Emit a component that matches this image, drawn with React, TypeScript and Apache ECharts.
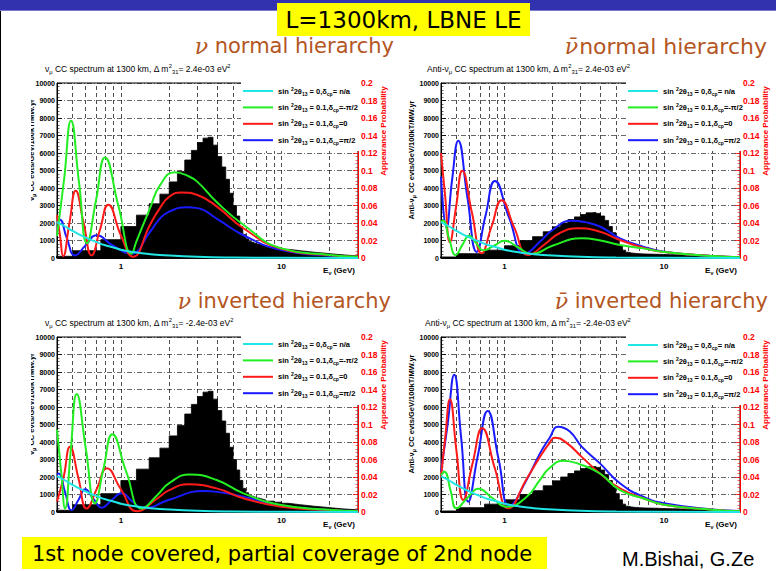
import React, { useEffect, useRef } from 'react';
import * as echarts from 'echarts';

// ---------- data ----------
const binEdges = [0.25, 0.5, 0.75, 1, 1.25, 1.5, 1.75, 2, 2.25, 2.5, 2.75, 3, 3.25, 3.5, 3.75, 4, 4.25, 4.5, 4.75, 5, 5.25, 5.5, 5.75, 6, 6.25, 6.5, 6.75, 7, 7.25, 7.5, 7.75, 8, 9, 10, 11, 12, 13, 14, 15, 16, 18, 20, 22, 24, 26, 28, 30];

const nuCounts = [100, 420, 1050, 1800, 2450, 3100, 3650, 4350, 4950, 5600, 6150, 6600, 6850, 6900, 6450, 5800, 5200, 4500, 3700, 3000, 2400, 1800, 1350, 1100, 950, 900, 850, 800, 760, 720, 680, 620, 560, 500, 460, 420, 390, 360, 330, 290, 250, 210, 180, 160, 140, 120];

const antiNuCounts = [60, 250, 450, 700, 1000, 1220, 1500, 1780, 2000, 2200, 2350, 2480, 2580, 2600, 2550, 2400, 2150, 1800, 1450, 1050, 700, 450, 330, 290, 270, 260, 250, 240, 235, 230, 225, 215, 200, 190, 180, 170, 160, 150, 140, 130, 115, 100, 90, 80, 70, 60];

const noTheta13 = [[0.4, 0.041], [0.45, 0.036], [0.5, 0.031], [0.6, 0.0235], [0.7, 0.0185], [0.8, 0.0145], [0.9, 0.012], [1.0, 0.0095], [1.25, 0.0062], [1.5, 0.0045], [2, 0.0028], [3, 0.0014], [5, 0.0006], [10, 0.0002], [30, 0.00003]];

// neutrino, normal hierarchy
const nuNHminus = [[0.4, 0.025], [0.443, 0.09], [0.489, 0.157], [0.548, 0.087], [0.615, 0.017], [0.7, 0.066], [0.796, 0.115], [0.964, 0.06], [1.167, 0.005], [1.25, 0.019], [1.52, 0.057], [1.75, 0.083], [2.17, 0.098], [2.6, 0.094], [3.0, 0.087], [3.95, 0.064], [5.8, 0.038], [10, 0.011], [20, 0.0034], [30, 0.0015]];
const nuNHzero = [[0.4, 0.049], [0.418, 0.025], [0.437, 0.002], [0.478, 0.04], [0.523, 0.077], [0.586, 0.04], [0.657, 0.003], [0.74, 0.032], [0.835, 0.061], [1.0, 0.026], [1.19, 0.0015], [1.52, 0.038], [1.75, 0.057], [2.0, 0.07], [2.39, 0.075], [3.0, 0.072], [3.95, 0.059], [5.8, 0.034], [10, 0.0105], [20, 0.003], [30, 0.0013]];
const nuNHplus = [[0.4, 0.043], [0.415, 0.044], [0.46, 0.023], [0.518, 0.003], [0.6, 0.014], [0.706, 0.026], [0.88, 0.015], [1.15, 0.005], [1.52, 0.03], [1.75, 0.045], [2.0, 0.053], [2.57, 0.058], [3.0, 0.057], [3.95, 0.045], [5.8, 0.026], [10, 0.009], [20, 0.0025], [30, 0.001]];

// anti-neutrino, normal hierarchy
const antiNHminus = [[0.4, 0.0415], [0.412, 0.043], [0.45, 0.022], [0.494, 0.0034], [0.545, 0.015], [0.6, 0.0255], [0.665, 0.017], [0.736, 0.009], [0.86, 0.014], [1.0, 0.0198], [1.22, 0.012], [1.48, 0.0046], [2.0, 0.014], [3.05, 0.0225], [4.0, 0.02], [5.3, 0.0149], [7.4, 0.011], [10, 0.0068], [20, 0.0023], [30, 0.001]];
const antiNHzero = [[0.4, 0.12], [0.425, 0.07], [0.455, 0.018], [0.497, 0.058], [0.544, 0.0998], [0.625, 0.052], [0.72, 0.0053], [0.83, 0.036], [0.96, 0.066], [1.15, 0.035], [1.41, 0.0034], [1.8, 0.016], [2.2, 0.028], [2.9, 0.034], [3.97, 0.03], [5.3, 0.0206], [7.4, 0.0118], [10, 0.0068], [20, 0.0023], [30, 0.001]];
const antiNHplus = [[0.4, 0.093], [0.433, 0.035], [0.47, 0.09], [0.513, 0.134], [0.585, 0.07], [0.67, 0.007], [0.76, 0.048], [0.872, 0.088], [1.07, 0.046], [1.345, 0.005], [1.7, 0.02], [2.0, 0.032], [2.64, 0.0427], [3.2, 0.041], [3.97, 0.036], [5.3, 0.0225], [7.4, 0.013], [10, 0.0072], [20, 0.0023], [30, 0.001]];

// neutrino, inverted hierarchy
const nuIHminus = [[0.4, 0.094], [0.425, 0.045], [0.449, 0.004], [0.487, 0.07], [0.531, 0.135], [0.605, 0.072], [0.69, 0.01], [0.78, 0.05], [0.885, 0.0888], [1.08, 0.046], [1.35, 0.004], [1.7, 0.02], [2.0, 0.033], [2.7, 0.043], [3.95, 0.0366], [5.8, 0.0213], [10, 0.008], [20, 0.0025], [30, 0.001]];
const nuIHzero = [[0.4, 0.012], [0.44, 0.04], [0.482, 0.0747], [0.545, 0.038], [0.612, 0.004], [0.71, 0.027], [0.817, 0.05], [1.0, 0.026], [1.26, 0.001], [1.7, 0.016], [2.0, 0.025], [2.63, 0.0316], [3.95, 0.027], [5.8, 0.0157], [10, 0.006], [20, 0.002], [30, 0.0008]];
const nuIHplus = [[0.4, 0.043], [0.41, 0.044], [0.45, 0.022], [0.493, 0.002], [0.545, 0.014], [0.6, 0.026], [0.675, 0.015], [0.76, 0.005], [0.87, 0.013], [1.01, 0.0214], [1.18, 0.012], [1.38, 0.004], [2.0, 0.014], [3.27, 0.024], [3.95, 0.023], [5.8, 0.0175], [10, 0.0069], [20, 0.0023], [30, 0.001]];

// anti-neutrino, inverted hierarchy
const antiIHminus = [[0.4, 0.042], [0.42, 0.046], [0.46, 0.024], [0.5, 0.0042], [0.585, 0.016], [0.685, 0.0265], [0.84, 0.016], [1.03, 0.006], [1.38, 0.0175], [1.67, 0.0366], [1.91, 0.05], [2.34, 0.0587], [3.05, 0.0537], [3.97, 0.044], [5.3, 0.025], [7.4, 0.0157], [10, 0.0084], [20, 0.0027], [30, 0.001]];
const antiIHzero = [[0.4, 0.04], [0.425, 0.085], [0.455, 0.129], [0.5, 0.07], [0.552, 0.0137], [0.63, 0.055], [0.726, 0.0957], [0.87, 0.05], [1.06, 0.0042], [1.38, 0.038], [1.67, 0.063], [1.91, 0.0785], [2.07, 0.085], [2.45, 0.079], [3.05, 0.063], [3.97, 0.044], [5.3, 0.027], [7.4, 0.0157], [10, 0.0084], [20, 0.0027], [30, 0.001]];
const antiIHplus = [[0.4, 0.046], [0.44, 0.1], [0.484, 0.157], [0.535, 0.085], [0.593, 0.0118], [0.68, 0.064], [0.785, 0.1154], [0.92, 0.06], [1.08, 0.0072], [1.38, 0.037], [1.67, 0.067], [1.91, 0.084], [2.17, 0.0975], [2.57, 0.092], [3.05, 0.0747], [3.97, 0.0556], [5.3, 0.0328], [7.4, 0.0175], [10, 0.0099], [20, 0.003], [30, 0.0012]];

const gridLinesE = [0.5, 0.6, 0.7, 0.8, 0.9, 1, 2, 3, 4, 5, 6, 7, 8, 9, 10, 20];

const curveNames = ['sin²2θ13 = 0, δcp = n/a', 'sin²2θ13 = 0.1, δcp = -π/2', 'sin²2θ13 = 0.1, δcp = 0', 'sin²2θ13 = 0.1, δcp = π/2'];
const legendLabels = [
  '{a|sin }{sup|2}{a|2θ}{sub|13}{a| = 0,δ}{sub|cp}{a|= n/a}',
  '{a|sin }{sup|2}{a|2θ}{sub|13}{a| = 0.1,δ}{sub|cp}{a|=-π/2}',
  '{a|sin }{sup|2}{a|2θ}{sub|13}{a| = 0.1,δ}{sub|cp}{a|=0}',
  '{a|sin }{sup|2}{a|2θ}{sub|13}{a| = 0.1,δ}{sub|cp}{a|=π/2}',
];
const curveColors = ['#22e6e6', '#22ee22', '#ff1a1a', '#1a1aff'];

// ---------- layout ----------
const SANS = '"Liberation Sans", Arial, sans-serif';
const TITLE_COLOR = '#b4561f';
const PH = 175;

const panels = [
  { left: 57, top: 83, width: 301, hist: nuCounts, curves: [noTheta13, nuNHminus, nuNHzero, nuNHplus], legLeft: 243, legTop: 86, anti: false, dm: '2.4e-03', title: ['ν', ' normal hierarchy'], nuPad: 0, tSize: 21, titleX: 394, titleY: 46, subX: 45, subY: 69 },
  { left: 441, top: 83, width: 299, hist: antiNuCounts, curves: [noTheta13, antiNHminus, antiNHzero, antiNHplus], legLeft: 628, legTop: 86, anti: true, dm: '2.4e-03', title: ['ν̄', 'normal hierarchy'], nuPad: 1, tSize: 22, titleX: 767, titleY: 46, subX: 427, subY: 69 },
  { left: 57, top: 337, width: 301, hist: nuCounts, curves: [noTheta13, nuIHminus, nuIHzero, nuIHplus], legLeft: 243, legTop: 339, anti: false, dm: '-2.4e-03', title: ['ν', ' inverted hierarchy'], nuPad: 0, tSize: 21, titleX: 391, titleY: 301, subX: 45, subY: 323 },
  { left: 441, top: 337, width: 299, hist: antiNuCounts, curves: [noTheta13, antiIHminus, antiIHzero, antiIHplus], legLeft: 628, legTop: 340, anti: true, dm: '-2.4e-03', title: ['ν̄', ' inverted hierarchy'], nuPad: 0, tSize: 21, titleX: 768, titleY: 301, subX: 425, subY: 323 },
];

const histData = (counts: number[]) =>
  counts.map((c, i) => [binEdges[i], c]).concat([[binEdges[binEdges.length - 1], counts[counts.length - 1]]]);

const smallRich = (size: number, bold: boolean, color: string) => ({
  a: { fontSize: size, fontWeight: bold ? 'bold' : 'normal', fontFamily: SANS, fill: color, lineHeight: size + 3 },
  sub: { fontSize: size * 0.68, fontWeight: bold ? 'bold' : 'normal', fontFamily: SANS, fill: color, lineHeight: size * 0.68, verticalAlign: 'bottom' },
  sup: { fontSize: size * 0.68, fontWeight: bold ? 'bold' : 'normal', fontFamily: SANS, fill: color, lineHeight: size * 0.68, verticalAlign: 'top' },
});

function buildOption() {
  const grid: any[] = [];
  const xAxis: any[] = [];
  const yAxis: any[] = [];
  const series: any[] = [];
  const legend: any[] = [];
  const elements: any[] = [];

  panels.forEach((p, i) => {
    grid.push({ left: p.left, top: p.top, width: p.width, height: PH, show: true, borderColor: '#000', borderWidth: 1, backgroundColor: 'transparent' });
    xAxis.push({
      type: 'log', gridIndex: i, min: 0.4, max: 30, logBase: 10,
      axisLine: { show: true, onZero: false, lineStyle: { color: '#000', width: 1 } },
      axisTick: { show: false }, splitLine: { show: false },
      axisLabel: {
        formatter: (v: number) => (Math.abs(v - 1) < 1e-6 ? '1' : Math.abs(v - 10) < 1e-6 ? '10' : ''),
        fontSize: 8, fontWeight: 'bold', color: '#000', fontFamily: SANS, margin: 4,
      },
    });
    yAxis.push({
      type: 'value', gridIndex: i, position: 'left', min: 0, max: 10000, interval: 1000,
      axisLine: { show: true, onZero: false, lineStyle: { color: '#000', width: 1 } },
      axisTick: { show: true, inside: true, length: 5, lineStyle: { color: '#000', width: 0.8 } },
      minorTick: { show: true, splitNumber: 5, length: 2.5, lineStyle: { color: '#000', width: 0.6 } },
      axisLabel: { formatter: (v: number) => String(v), fontSize: 7, fontWeight: 'bold', color: '#000', fontFamily: SANS, margin: 2 },
      splitLine: { show: true, lineStyle: { color: '#000', width: 0.6, type: [5, 2, 1, 2] } },
    });
    yAxis.push({
      type: 'value', gridIndex: i, position: 'right', min: 0, max: 0.2, interval: 0.02,
      axisLine: { show: true, onZero: false, lineStyle: { color: '#ff0000', width: 1 } },
      axisTick: { show: true, inside: true, length: 5, lineStyle: { color: '#ff0000', width: 0.8 } },
      minorTick: { show: true, splitNumber: 5, length: 2.5, lineStyle: { color: '#ff0000', width: 0.6 } },
      axisLabel: { fontSize: 8.5, fontWeight: 'bold', color: '#ff0000', fontFamily: SANS, margin: 3 },
      splitLine: { show: false },
    });

    series.push({
      type: 'line', xAxisIndex: i, yAxisIndex: 2 * i, data: histData(p.hist), step: 'end',
      symbol: 'none', silent: true, z: 2,
      lineStyle: { color: '#000', width: 0.8 }, areaStyle: { color: '#000', opacity: 1 },
      markLine: {
        silent: true, symbol: ['none', 'none'], z: 1, label: { show: false },
        lineStyle: { color: '#000', width: 0.7, type: [4, 3] },
        data: gridLinesE.map((v) => ({ xAxis: v })),
      },
    });
    const order = [3, 2, 1, 0];
    order.forEach((k, j) => {
      series.push({
        type: 'line', name: curveNames[k], xAxisIndex: i, yAxisIndex: 2 * i + 1,
        data: p.curves[k], smooth: 0.5, symbol: 'none', showSymbol: false, z: 3 + j,
        lineStyle: { color: curveColors[k], width: 2 }, itemStyle: { color: curveColors[k] },
      });
    });

    legend.push({
      orient: 'vertical', left: p.legLeft, top: p.legTop, itemWidth: 30, itemHeight: 2, itemGap: 6.4,
      icon: 'rect', padding: 0, selectedMode: false, z: 20, data: curveNames,
      itemStyle: { borderWidth: 0 },
      formatter: (n: string) => legendLabels[curveNames.indexOf(n)],
      textStyle: {
        rich: {
          a: { fontSize: 7.5, fontWeight: 'bold', fontFamily: SANS, color: '#000', lineHeight: 10 },
          sub: { fontSize: 5, fontWeight: 'bold', fontFamily: SANS, color: '#000', lineHeight: 5, verticalAlign: 'bottom' },
          sup: { fontSize: 5, fontWeight: 'bold', fontFamily: SANS, color: '#000', lineHeight: 5, verticalAlign: 'top' },
        },
      },
    });

    const right = p.left + p.width;
    // white legend box
    elements.push({ type: 'rect', shape: { x: p.legLeft - 2, y: p.top - 1, width: right - p.legLeft + 3.5, height: 69 }, style: { fill: '#fff' }, z: 10, silent: true });

    // panel title
    elements.push({
      type: 'text', x: p.titleX, y: p.titleY, z: 12,
      style: {
        text: `{nu|${p.title[0]}}{t|${p.title[1]}}`, align: 'right', verticalAlign: 'middle',
        rich: {
          nu: { fontFamily: '"DejaVu Serif", serif', fontStyle: 'italic', fontSize: 22, fill: TITLE_COLOR, padding: [0, p.nuPad, 0, 0] },
          t: { fontFamily: '"DejaVu Sans", sans-serif', fontSize: p.tSize, fill: TITLE_COLOR },
        },
      },
    });
    // ROOT subtitle
    elements.push({
      type: 'text', x: p.subX, y: p.subY, z: 12,
      style: {
        text: `{a|${p.anti ? 'Anti-' : ''}ν}{sub|μ}{a| CC spectrum at 1300 km, Δ m}{sup|2}{sub|31}{a|= ${p.dm} eV}{sup|2}`,
        align: 'left', verticalAlign: 'middle', rich: smallRich(8.5, false, '#000'),
      },
    });
    // left axis name
    if (p.anti) {
      elements.push({
        type: 'text', x: p.left - 30, y: p.top + 77, rotation: Math.PI / 2, z: 12,
        style: { text: '{a|Anti-ν}{sub|μ}{a| CC evts/GeV/100kT/MW.yr}', align: 'center', verticalAlign: 'middle', rich: smallRich(7.5, true, '#000') },
      });
    } else {
      elements.push({
        type: 'text', x: 31, y: p.top + 67, rotation: Math.PI / 2, z: 11,
        style: { text: '{a|ν}{sub|μ}{a| CC evts/GeV/100kT/MW.yr}', align: 'center', verticalAlign: 'middle', rich: smallRich(7.5, true, '#000') },
      });
      elements.push({ type: 'rect', shape: { x: 1, y: p.top - 5, width: 30, height: PH + 10 }, style: { fill: '#fff' }, z: 12, silent: true });
    }
    // right axis name
    elements.push({
      type: 'text', x: right + 25, y: p.top + 48, rotation: Math.PI / 2, z: 12,
      style: { text: 'Appearance Probability', font: `bold 8px ${SANS}`, fill: '#ff0000', align: 'center', verticalAlign: 'middle' },
    });
    // x axis title
    elements.push({
      type: 'text', x: right - 3, y: p.top + PH + 12, z: 12,
      style: { text: '{a|E}{sub|ν}{a| (GeV)}', align: 'right', verticalAlign: 'middle', rich: smallRich(8, true, '#000') },
    });
  });

  // slide decorations
  elements.push({ type: 'rect', shape: { x: 0, y: 0, width: 776, height: 10 }, style: { fill: '#3232ae' }, z: 1, silent: true });
  elements.push({ type: 'rect', shape: { x: 0, y: 10, width: 776, height: 1 }, style: { fill: '#7a7ad0' }, z: 1, silent: true });
  elements.push({ type: 'rect', shape: { x: 0, y: 11, width: 1, height: 560 }, style: { fill: '#000' }, z: 1, silent: true });
  elements.push({ type: 'rect', shape: { x: 277, y: 3, width: 253, height: 33 }, style: { fill: '#ffff00' }, z: 2, silent: true });
  elements.push({ type: 'text', x: 403.5, y: 20, z: 3, style: { text: 'L=1300km, LBNE LE', font: '23px "DejaVu Sans", sans-serif', fill: '#000', align: 'center', verticalAlign: 'middle' } });
  elements.push({ type: 'rect', shape: { x: 22, y: 537, width: 525, height: 32 }, style: { fill: '#ffff00' }, z: 2, silent: true });
  elements.push({ type: 'text', x: 32, y: 553.5, z: 3, style: { text: '1st node covered, partial coverage of 2nd node', font: '21px "DejaVu Sans", sans-serif', fill: '#000', align: 'left', verticalAlign: 'middle' } });
  elements.push({ type: 'text', x: 622, y: 558.5, z: 3, style: { text: 'M.Bishai, G.Ze', font: `20px ${SANS}`, fill: '#000', align: 'left', verticalAlign: 'middle' } });

  return { animation: false, backgroundColor: '#fff', grid, xAxis, yAxis, series, legend, graphic: elements };
}

export default function App() {
  const ref = useRef<HTMLDivElement>(null);
  useEffect(() => {
    document.body.style.margin = '0';
    const chart = echarts.init(ref.current as HTMLDivElement, null, { renderer: 'svg' });
    chart.setOption(buildOption() as any);
    return () => chart.dispose();
  }, []);
  return <div ref={ref} style={{ width: 776, height: 571 }} />;
}
